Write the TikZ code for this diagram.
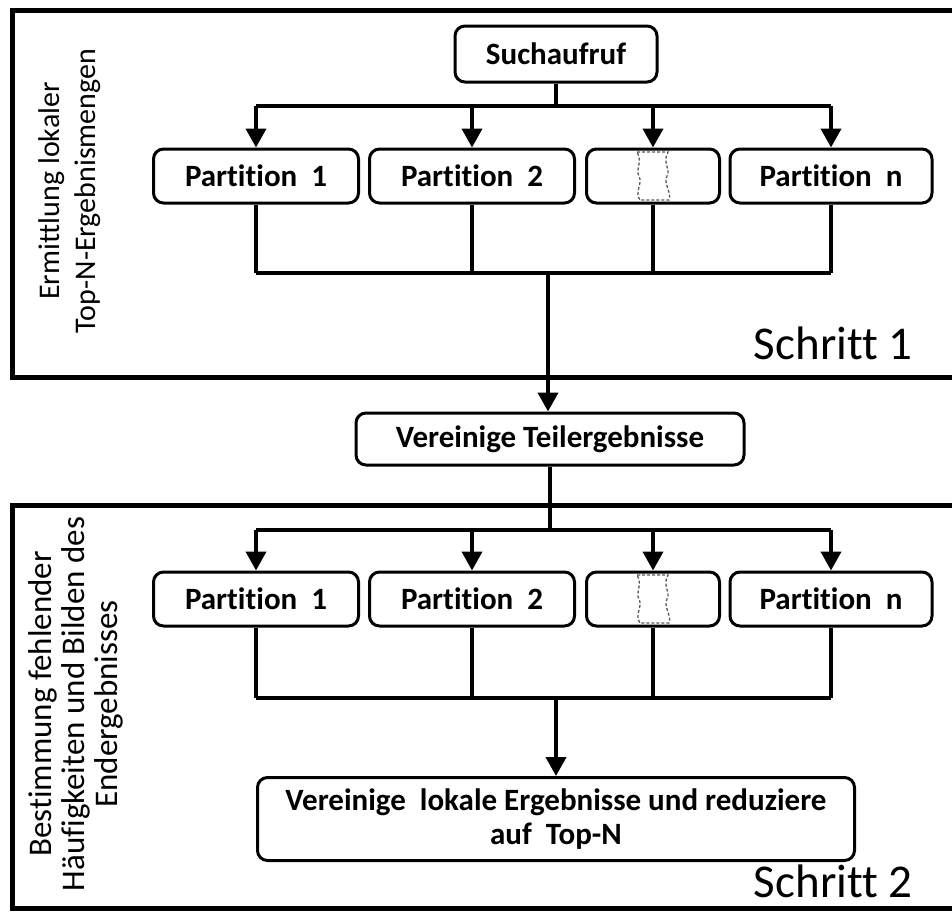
\documentclass[tikz,border=0pt]{standalone}
\usepackage{fontspec}
\setmainfont{Carlito}[Ligatures=NoCommon]
\usetikzlibrary{arrows.meta,calc}
\begin{document}
\begin{tikzpicture}[x=1pt,y=-1pt,
  frame/.style={line width=5pt},
  box/.style={draw,line width=3pt,rounded corners=10pt,rectangle,inner sep=0pt,
    font=\fontsize{31}{34}\selectfont\bfseries,align=center},
  wire/.style={line width=4pt},
  arr/.style={line width=4pt,-{Triangle[width=20pt,length=19pt]}},
  gap/.style={draw=gray!70!black,line width=1.3pt,dash pattern=on 3pt off 2pt},
  side/.style={rotate=90,align=center},
  stagetitle/.style={anchor=base east,font=\fontsize{47}{50}\selectfont}
]
\useasboundingbox (0,0) rectangle (952,911);
\clip (0,0) rectangle (952,911);

% stage frames (open to the right)
\draw[frame] (12,10) rectangle (990,377);
\draw[frame] (12,505) rectangle (990,908);

% stage labels
\node[side,font=\fontsize{30}{36}\selectfont] (lab1) at (70,191) {Ermittlung lokaler\\Top-N-Ergebnismengen};
\node[side,font=\fontsize{33}{33}\selectfont] (lab2) at (76,704) {Bestimmung fehlender\\Häufigkeiten und Bilden des\\Endergebnisses};
\node[stagetitle] (s1) at (916,359) {Schritt 1};
\node[stagetitle] (s2) at (916,897) {Schritt 2};

% stage 1
\node[box,minimum width=202pt,minimum height=56pt] (such) at (556,54) {Suchaufruf};
\node[box,minimum width=205pt,minimum height=54pt] (p11) at (256,176) {Partition\ \ 1};
\node[box,minimum width=205pt,minimum height=54pt] (p12) at (472,176) {Partition\ \ 2};
\node[box,minimum width=133pt,minimum height=54pt] (p1x) at (653,176) {};
\node[box,minimum width=202pt,minimum height=54pt] (p1n) at (831,176) {Partition\ \ n};

\node[box,minimum width=388pt,minimum height=52pt] (ver) at (550,439) {Vereinige Teilergebnisse};

% stage 2
\node[box,minimum width=205pt,minimum height=54pt] (p21) at (256,599) {Partition\ \ 1};
\node[box,minimum width=205pt,minimum height=54pt] (p22) at (472,599) {Partition\ \ 2};
\node[box,minimum width=133pt,minimum height=54pt] (p2x) at (653,599) {};
\node[box,minimum width=202pt,minimum height=54pt] (p2n) at (831,599) {Partition\ \ n};

\node[box,minimum width=597pt,minimum height=83pt] (fin) at (556,819)
  {Vereinige\ \ lokale Ergebnisse und reduziere\\auf\ \ Top-N};

% placeholder shapes for further partitions
\foreach \g in {p1x,p2x}{
  \begin{scope}[shift={(\g.center)}]
    \draw[gap] (-16,-24) -- (15,-24)
      .. controls (9,-14) and (18,-6) .. (14,0)
      .. controls (10,8) and (19,16) .. (16,24)
      -- (-13,24)
      .. controls (-19,16) and (-10,8) .. (-14,0)
      .. controls (-18,-6) and (-10,-14) .. (-16,-24);
  \end{scope}
}

% fan-out of stage 1
\coordinate (b1) at (0,106);
\draw[wire] (such.south) -- (such.south |- b1);
\draw[wire] (p11.north |- b1) -- (p1n.north |- b1);
\foreach \n in {p11,p12,p1x,p1n} \draw[arr] (\n.north |- b1) -- (\n.north);

% fan-in of stage 1
\coordinate (m1) at (0,273);
\foreach \n in {p11,p12,p1x,p1n} \draw[wire] (\n.south) -- (\n.south |- m1);
\draw[wire] (p11.south |- m1) -- (p1n.south |- m1);
\coordinate (v1) at (548,273);
\draw[arr] (v1) -- (v1 |- ver.north);

% fan-out of stage 2
\coordinate (b2) at (0,530);
\draw[wire] (ver.south) -- (ver.south |- b2);
\draw[wire] (p21.north |- b2) -- (p2n.north |- b2);
\foreach \n in {p21,p22,p2x,p2n} \draw[arr] (\n.north |- b2) -- (\n.north);

% fan-in of stage 2
\coordinate (m2) at (0,698);
\foreach \n in {p21,p22,p2x,p2n} \draw[wire] (\n.south) -- (\n.south |- m2);
\draw[wire] (p21.south |- m2) -- (p2n.south |- m2);
\draw[arr] (fin.north |- m2) -- (fin.north);
\end{tikzpicture}
\end{document}
